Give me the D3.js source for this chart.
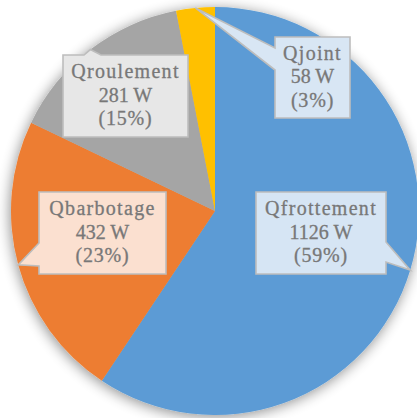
<!DOCTYPE html>
<html>
<head>
<meta charset="utf-8">
<script src="https://cdn.jsdelivr.net/npm/d3@7/dist/d3.min.js"></script>
<style>
  html, body { margin: 0; padding: 0; background: #ffffff; }
  svg { display: block; }
  .labels text { font-family: "Liberation Serif", "DejaVu Serif", "Times New Roman", serif; }
</style>
</head>
<body>
<svg id="chart" width="417" height="418"></svg>
<script>
// Heat losses (W), clockwise from 12 o'clock
const categories = ["Qfrottement", "Qbarbotage", "Qroulement", "Qjoint"];
const values = [1126, 432, 281, 58];
const units = "W";

const sliceColors = ["#5B9BD5", "#ED7D31", "#A5A5A5", "#FFC000"];
const labelFills = ["#D6E5F4", "#FBE0D0", "#E7E7E7", "#D8E6F4"];

const W = 417, H = 418;
const cx = 215, cy = 211, R = 204;

const svg = d3.select("#chart");
const defs = svg.append("defs");

const shadow = defs.append("filter")
  .attr("id", "pieShadow")
  .attr("x", "-20%").attr("y", "-20%")
  .attr("width", "140%").attr("height", "140%");
shadow.append("feGaussianBlur").attr("in", "SourceAlpha").attr("stdDeviation", 7).attr("result", "blur");
shadow.append("feOffset").attr("in", "blur").attr("dx", -1).attr("dy", 2).attr("result", "off");
shadow.append("feComponentTransfer").attr("in", "off").attr("result", "soft")
  .append("feFuncA").attr("type", "linear").attr("slope", 0.45);
const merge = shadow.append("feMerge");
merge.append("feMergeNode").attr("in", "soft");
merge.append("feMergeNode").attr("in", "SourceGraphic");

const total = d3.sum(values);
const data = categories.map((c, i) => ({
  name: c,
  value: values[i],
  pct: Math.round(values[i] / total * 100),
  color: sliceColors[i],
  fill: labelFills[i]
}));

const pie = d3.pie().sort(null).value(d => d.value).startAngle(0).endAngle(2 * Math.PI);
const arcs = pie(data);
const arc = d3.arc().innerRadius(0).outerRadius(R);

const g = svg.append("g").attr("transform", `translate(${cx},${cy})`);

g.append("g").attr("filter", "url(#pieShadow)")
  .selectAll("path")
  .data(arcs)
  .join("path")
  .attr("d", arc)
  .attr("fill", d => d.data.color);

// Callout boxes: box edges and where the pointer leaves the box
const callouts = [
  { x0: 256, y0: 192, x1: 386, y1: 274, side: "right", b1: 242, b2: 262 },
  { x0: 39,  y0: 192, x1: 166, y1: 274, side: "left",  b1: 243, b2: 266 },
  { x0: 63,  y0: 55,  x1: 188, y1: 137, side: "top",   b1: 84,  b2: 101 },
  { x0: 275, y0: 37,  x1: 350, y1: 118, side: "left",  b1: 48,  b2: 70 }
];

function calloutPath(b, tip) {
  const p = d3.path();
  const { x0, y0, x1, y1, side, b1, b2 } = b;
  p.moveTo(x0, y0);
  if (side === "top") { p.lineTo(b1, y0); p.lineTo(tip[0], tip[1]); p.lineTo(b2, y0); }
  p.lineTo(x1, y0);
  if (side === "right") { p.lineTo(x1, b1); p.lineTo(tip[0], tip[1]); p.lineTo(x1, b2); }
  p.lineTo(x1, y1);
  p.lineTo(x0, y1);
  if (side === "left") { p.lineTo(x0, b2); p.lineTo(tip[0], tip[1]); p.lineTo(x0, b1); }
  p.closePath();
  return p.toString();
}

const labels = svg.append("g").attr("class", "labels");
arcs.forEach((a, i) => {
  const b = callouts[i];
  const mid = (a.startAngle + a.endAngle) / 2;
  const tip = [cx + R * Math.sin(mid), cy - R * Math.cos(mid)];
  const lg = labels.append("g");
  lg.append("path")
    .attr("d", calloutPath(b, tip))
    .attr("fill", a.data.fill)
    .attr("stroke", "#BDBDBD")
    .attr("stroke-width", 1.6)
    .attr("stroke-linejoin", "miter");
  const tx = (b.x0 + b.x1) / 2, ty = (b.y0 + b.y1) / 2;
  const lines = [a.data.name, `${a.data.value} ${units}`, `(${a.data.pct}%)`];
  lg.selectAll("text")
    .data(lines)
    .join("text")
    .attr("x", tx)
    .attr("y", (d, j) => ty + 5.5 + (j - 1) * 23.5)
    .attr("text-anchor", "middle")
    .attr("font-size", 20)
    .attr("letter-spacing", (d, j) => j === 0 ? 1.3 : (j === 2 ? 0.8 : 0))
    .attr("fill", "#787878")
    .attr("stroke", "#787878")
    .attr("stroke-width", 0.3)
    .text(d => d);
});
</script>
</body>
</html>
